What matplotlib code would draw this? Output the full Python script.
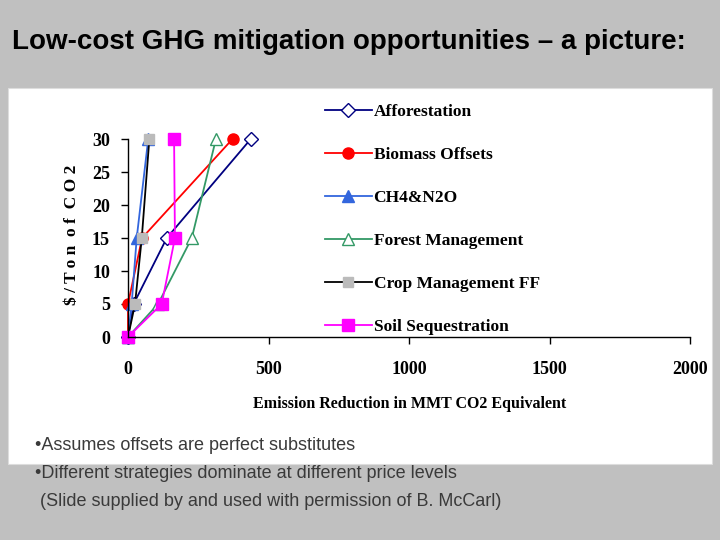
import matplotlib
matplotlib.use("Agg")
import matplotlib.pyplot as plt
from matplotlib.patches import Rectangle

prices = [0, 5, 15, 30]
series_names = ["Afforestation", "Biomass Offsets", "CH4&N2O",
                "Forest Management", "Crop Management FF", "Soil Sequestration"]
afforestation = [0, 20, 138, 437]
biomass = [0, 0, 50, 372]
ch4_n2o = [0, 13, 31, 72]
forest_mgmt = [0, 107, 227, 313]
crop_mgmt = [0, 25, 49, 76]
soil_seq = [0, 120, 167, 164]
xticks = [0, 500, 1000, 1500, 2000]
yticks = [0, 5, 10, 15, 20, 25, 30]

W, H = 720, 540
fig = plt.figure(figsize=(7.2, 5.4), dpi=100, facecolor="#c0c0c0")
bg = Rectangle((8 / W, 1 - 464 / H), (712 - 8) / W, (464 - 88) / H,
               transform=fig.transFigure, facecolor="white",
               edgecolor="#dddddd", lw=0.8, zorder=-10)
fig.patches.append(bg)

fig.text(12 / W, 1 - 42 / H, "Low-cost GHG mitigation opportunities \u2013 a picture:",
         family="Liberation Sans", weight="bold", fontsize=20, color="black",
         ha="left", va="center")

ax = fig.add_axes([128 / W, 1 - 337 / H, (690 - 128) / W, (337 - 139) / H], zorder=5)
ax.set_facecolor("none")

styles = [
    dict(color="#000080", marker="D", mfc="white", mec="#000080", ms=7),
    dict(color="#ff0000", marker="o", mfc="#ff0000", mec="#ff0000", ms=8),
    dict(color="#3366dd", marker="^", mfc="#3366dd", mec="#3366dd", ms=8),
    dict(color="#339966", marker="^", mfc="white", mec="#339966", ms=9),
    dict(color="#000000", marker="s", mfc="#bbbbbb", mec="#bbbbbb", ms=7),
    dict(color="#ff00ff", marker="s", mfc="#ff00ff", mec="#ff00ff", ms=8),
]
data = [afforestation, biomass, ch4_n2o, forest_mgmt, crop_mgmt, soil_seq]
handles = []
for name, xs, st in zip(series_names, data, styles):
    h, = ax.plot(xs, prices, lw=1.3, clip_on=False, label=name, **st)
    handles.append(h)

ax.set_xlim(0, 2000)
ax.set_ylim(0, 30)
ax.set_xticks(xticks)
ax.set_yticks(yticks)
for s in ["top", "right"]:
    ax.spines[s].set_visible(False)
for s in ["left", "bottom"]:
    ax.spines[s].set_linewidth(1.0)
ax.tick_params(direction="out", length=5, width=1, pad=8)
for lab in ax.get_xticklabels() + ax.get_yticklabels():
    lab.set_family("Liberation Serif")
    lab.set_weight("bold")
    lab.set_fontsize(13)
ax.tick_params(axis="x", pad=12)

fig.text(410 / W, 1 - 404 / H, "Emission Reduction in MMT CO2 Equivalent",
         family="Liberation Serif", weight="bold", fontsize=11.5,
         ha="center", va="center")
fig.text(72 / W, 1 - 235 / H, "$ / T o n  o f  C O 2",
         family="Liberation Serif", weight="bold", fontsize=12.5,
         ha="center", va="center", rotation=90)

leg = fig.legend(handles=handles, loc="upper left",
                 bbox_to_anchor=(325 / W, 1 - 104 / H),
                 frameon=False, borderpad=0, borderaxespad=0,
                 handlelength=2.7, handletextpad=0.1, labelspacing=1.55,
                 prop=dict(family="Liberation Serif", weight="bold", size=12.5))

lines = ["\u2022Assumes offsets are perfect substitutes",
         "\u2022Different strategies dominate at different price levels",
         " (Slide supplied by and used with permission of B. McCarl)"]
ys = [445, 474, 502]
for t, y in zip(lines, ys):
    fig.text(35 / W, 1 - y / H, t, family="Liberation Sans", fontsize=13,
             color="#3a3a3a", ha="left", va="center")

fig.savefig("out.png", dpi=100, facecolor=fig.get_facecolor())
